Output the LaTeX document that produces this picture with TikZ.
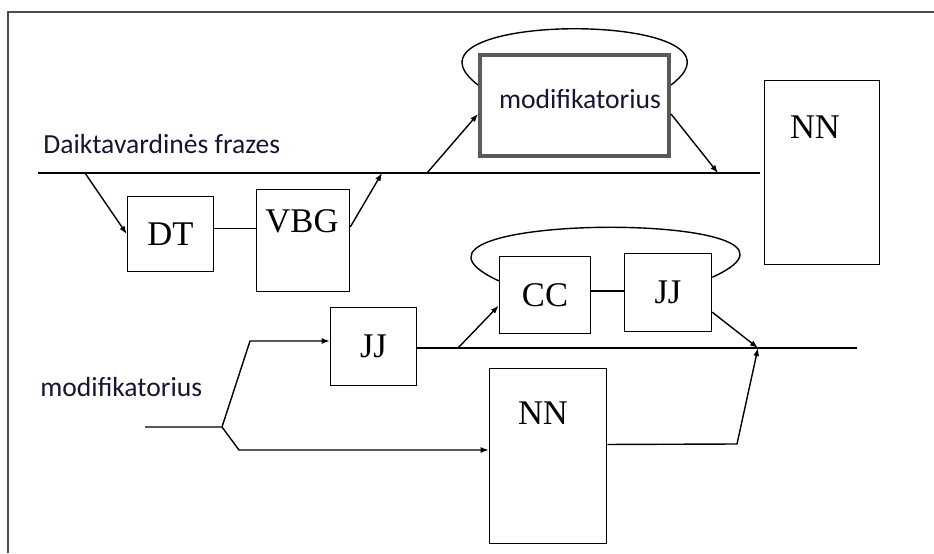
\documentclass[tikz,border=0pt]{standalone}
\usepackage{fontspec}
\setmainfont{Liberation Serif}
\newfontfamily\lblfont{Carlito}
\usetikzlibrary{arrows.meta,calc,positioning}
\definecolor{lbltext}{RGB}{22,22,48}

\begin{document}
\begin{tikzpicture}[x=0.5pt,y=-0.5pt,
    tag/.style={font=\fontsize{17.3}{20}\selectfont},
    blk/.style={draw,line width=0.8pt,inner sep=0pt},
    lbl/.style={font=\lblfont\fontsize{13.8}{16}\selectfont,text=lbltext,inner sep=0pt},
    ln/.style={line width=0.7pt},
    arr/.style={ln,-{Latex[length=4pt,width=3pt]}}]

    \useasboundingbox (0,0) rectangle (934,553);
    \draw[line width=1pt,black!70] (8,553) -- (8,12) -- (934,12); % remas

    % virsutine saka
    \node[blk,tag,minimum width=43pt,minimum height=37.5pt] (dt) at (170.5,234) {DT};
    \node[blk,minimum width=46.5pt,minimum height=51pt] (vbg) at (303,240.5) {};
    \node[tag,anchor=base] (vbgt) at (302,232) {VBG};
    \node[blk,line width=2pt,draw=black!65,minimum width=94.5pt,minimum height=50.5pt] (mod) at (574.5,105.5) {};
    \node[lbl,anchor=base] (modt) at (580,108) {modifikatorius};
    \node[blk,minimum width=57.5pt,minimum height=92pt] (nna) at (822,172.5) {};
    \node[tag,anchor=base] (nnat) at (815,138) {NN};
    \node[lbl,anchor=base west] (np) at (43,153) {Daiktavardinės frazes};

    \coordinate (np0) at (38,173);
    \coordinate (np1) at (760,173);
    \coordinate (s1) at (85,173);
    \coordinate (s2) at (382,173);
    \coordinate (s3) at (427,173);
    \coordinate (s4) at (718,173);
    \draw[ln] (np0) -- (np1);
    \draw[arr] (s1) -- (dt.west);
    \draw[ln] (dt.7) -- (dt.7 -| vbg.west);
    \draw[arr] (vbg.16) -- (s2);
    \draw[arr] (s3) -- (mod.185);
    \draw[arr] (mod.355) -- (s4);
    \draw[ln] (mod.168) .. controls +(-98,-75) and +(99,-75) .. (mod.12); % kilpa

    % apatine saka
    \node[blk,tag,minimum width=43pt,minimum height=39pt] (jja) at (373.5,346.5) {JJ};
    \node[blk,tag,minimum width=45.5pt,minimum height=38.5pt] (cc) at (545,295) {CC};
    \node[blk,tag,minimum width=43.5pt,minimum height=39pt] (jjb) at (668,292.5) {JJ};
    \node[blk,minimum width=58.5pt,minimum height=87.5pt] (nnb) at (548,456) {};
    \node[tag,anchor=base] (nnbt) at (543,424) {NN};
    \node[lbl,anchor=base west] (modin) at (40,396) {modifikatorius};

    \coordinate (m0) at (145,427);
    \coordinate (fork) at (222,427);
    \coordinate (up) at (250,341);
    \coordinate (dn) at (239,450);
    \coordinate (ml1) at (857,348);
    \coordinate (s5) at (458,348);
    \coordinate (join) at (758,348);
    \coordinate (kink) at (737,444);
    \draw[arr] (m0) -- (fork) -- (up) -- (up -| jja.west);
    \draw[arr] (fork) -- (dn) -- (dn -| nnb.west);
    \draw[ln] (jja.east |- ml1) -- (ml1);
    \draw[arr] (s5) -- (cc.193);
    \draw[ln] (cc.5) -- (cc.5 -| jjb.west);
    \draw[arr] (jjb.336) -- (join);
    \draw[arr] (nnb.11) -- (kink) -- (join);
    \draw[ln] (cc.163) .. controls +(-150,-70) and +(150,-68) .. (jjb.19); % kilpa

\end{tikzpicture}
\end{document}
